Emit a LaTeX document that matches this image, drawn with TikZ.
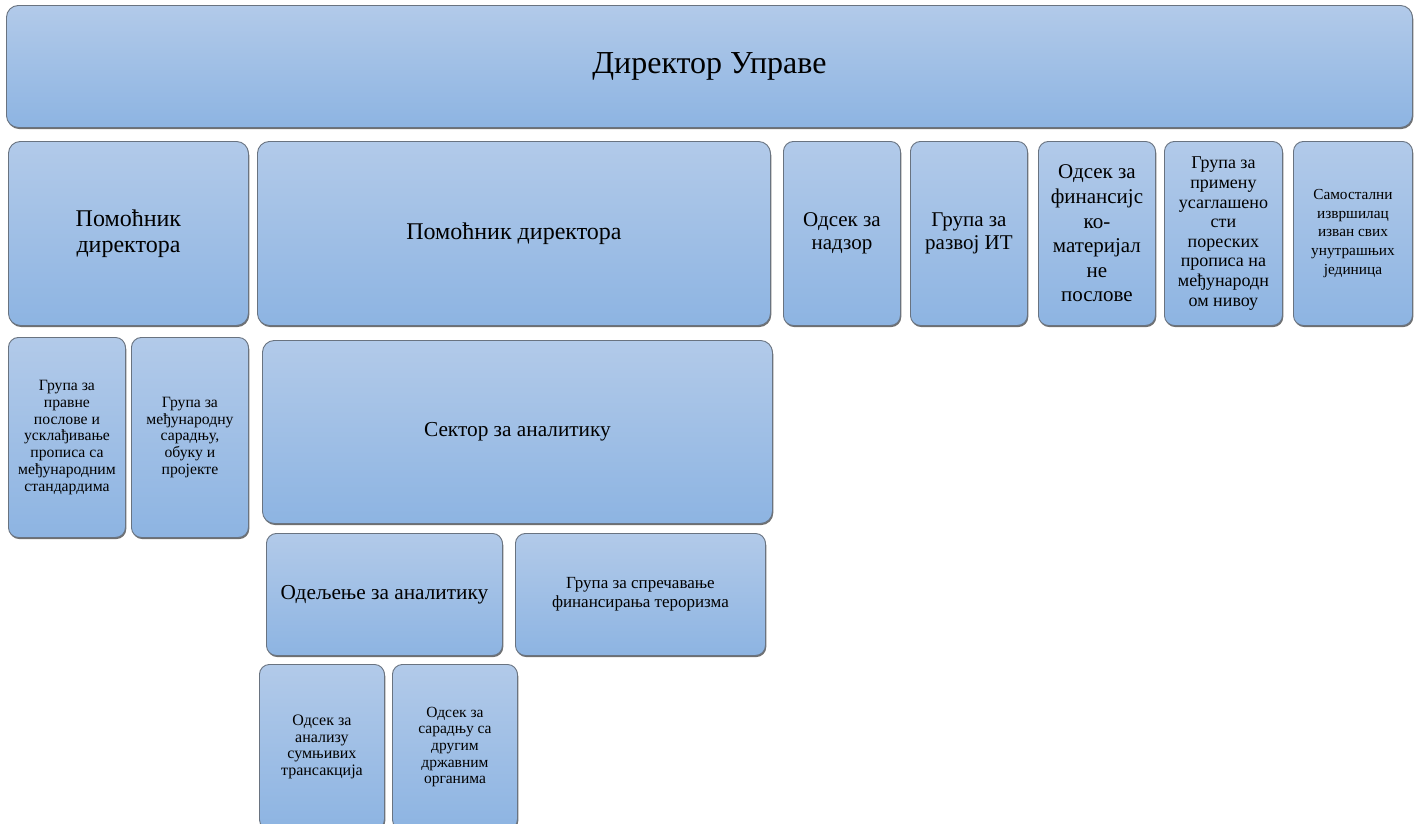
\documentclass[tikz,border=0pt]{standalone}
\usepackage{fontspec}
\setmainfont{Liberation Serif}
\usetikzlibrary{shadows}
\definecolor{boxtop}{RGB}{178,202,233}
\definecolor{boxbot}{RGB}{141,180,226}
\definecolor{boxline}{RGB}{105,115,128}
\tikzset{
  unit/.style={anchor=north west, draw=boxline, line width=0.9pt, rounded corners=12pt,
    top color=boxtop, bottom color=boxbot, align=center, inner sep=2pt, text=black,
    drop shadow={shadow xshift=0.8pt, shadow yshift=-1.6pt, opacity=0.7, fill=black!80}},
  fsz/.style args={#1/#2}{font=\fontsize{#1}{#2}\selectfont}
}
\begin{document}
\begin{tikzpicture}[x=1pt,y=-1pt]
    \clip (0,0) rectangle (1418,823);
    % Nodes
    \node [unit, fsz=32/36, minimum width=1406pt, minimum height=122pt](A) at (6,5) {Директор Управе};
    \node [unit, fsz=24/26, minimum width=240pt, minimum height=184pt](B) at (8,141) {Помоћник\\директора};
    \node [unit, fsz=24/26, minimum width=513pt, minimum height=184pt](C) at (257,141) {Помоћник директора};
    \node [unit, fsz=21/23, minimum width=117pt, minimum height=184pt, rounded corners=10pt](D) at (783,141) {Одсек за\\надзор};
    \node [unit, fsz=21/23, minimum width=117pt, minimum height=184pt, rounded corners=10pt](E) at (910,141) {Група за\\развој ИТ};
    \node [unit, fsz=21/24.6, minimum width=117pt, minimum height=184pt, rounded corners=10pt](F) at (1038,141) {Одсек за\\финансијс\\ко-\\материјал\\не\\послове};
    \node [unit, fsz=18/19.6, minimum width=118pt, minimum height=184pt, rounded corners=10pt](G) at (1164,141) {Група за\\примену\\усаглашено\\сти\\пореских\\прописа на\\међународн\\ом нивоу};
    \node [unit, fsz=15.3/18.6, minimum width=119pt, minimum height=184pt, rounded corners=10pt](H) at (1293,141) {Самостални\\извршилац\\изван свих\\унутрашњих\\јединица};

    \node [unit, fsz=15.7/16.7, minimum width=117pt, minimum height=200pt, rounded corners=10pt](I) at (8,337) {Група за\\правне\\послове и\\усклађивање\\прописа са\\међународним\\стандардима};
    \node [unit, fsz=15.7/16.7, minimum width=117pt, minimum height=200pt, rounded corners=10pt](J) at (131,337) {Група за\\међународну\\сарадњу,\\обуку и\\пројекте};
    \node [unit, fsz=21.3/25, minimum width=510pt, minimum height=183pt](K) at (262,340) {Сектор за аналитику};

    \node [unit, fsz=21.3/25, minimum width=236pt, minimum height=122pt, rounded corners=10pt](L) at (266,533) {Одељење за аналитику};
    \node [unit, fsz=17/19, minimum width=250pt, minimum height=122pt, rounded corners=10pt](M) at (515,533) {Група за спречавање\\финансирања тероризма};

    \node [unit, fsz=16/16.7, minimum width=125pt, minimum height=165pt, rounded corners=10pt](N) at (259,664) {Одсек за\\анализу\\сумњивих\\трансакција};
    \node [unit, fsz=15.5/16.7, minimum width=125pt, minimum height=165pt, rounded corners=10pt](O) at (392,664) {Одсек за\\сарадњу са\\другим\\државним\\органима};
\end{tikzpicture}
\end{document}
